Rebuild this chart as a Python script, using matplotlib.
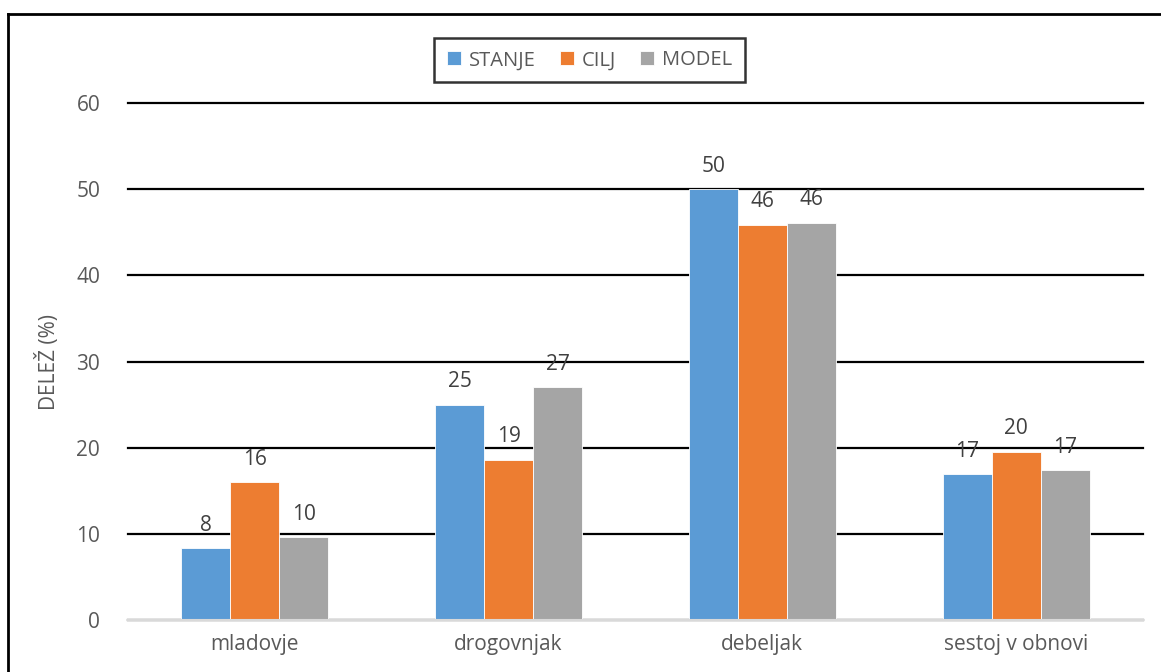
import matplotlib
matplotlib.use('Agg')
import matplotlib.pyplot as plt
import numpy as np
from matplotlib.lines import Line2D

plt.rcParams['font.family'] = ['Open Sans', 'DejaVu Sans']

kategorije = ['mladovje', 'drogovnjak', 'debeljak', 'sestoj v obnovi']
stanje = [8.3, 25.0, 50.0, 16.9]
cilj = [16.0, 18.6, 45.9, 19.5]
model = [9.6, 27.0, 46.1, 17.4]

serije = [('STANJE', stanje, '#5B9BD5'),
          ('CILJ', cilj, '#ED7D31'),
          ('MODEL', model, '#A5A5A5')]

siva = '#595959'
fs = 15

fig = plt.figure(figsize=(11.61, 6.72), dpi=100)
ax = fig.add_axes([0.1102, 0.0774, 0.8743, 0.7693])

x = np.arange(len(kategorije))
sirina = 0.193
for i, (ime, vrednosti, barva) in enumerate(serije):
    pos = x + (i - 1) * sirina
    stolpci = ax.bar(pos, vrednosti, sirina, color=barva, label=ime,
                     edgecolor='white', linewidth=0.6, zorder=3)
    for s, v in zip(stolpci, vrednosti):
        ax.annotate('%.0f' % v, (s.get_x() + s.get_width() / 2, v),
                    xytext=(0, 9), textcoords='offset points',
                    ha='center', va='bottom', fontsize=fs, color='#404040',
                    zorder=4)

ax.set_xlim(-0.5, len(kategorije) - 0.5)
ax.set_ylim(0, 60)
ax.set_yticks(range(0, 61, 10))
ax.set_xticks(x)
ax.set_xticklabels(kategorije)
ax.tick_params(axis='both', length=0, labelsize=fs, labelcolor=siva)
ax.tick_params(axis='y', pad=20)
ax.tick_params(axis='x', pad=10)

ax.grid(axis='y', color='black', linewidth=1.6, zorder=0)
for g in ax.get_ygridlines():
    g.set_clip_on(False)
for sp in ['top', 'right', 'left']:
    ax.spines[sp].set_visible(False)
ax.spines['bottom'].set_color('#D9D9D9')
ax.spines['bottom'].set_linewidth(1.5)
ax.spines['bottom'].set_zorder(5)

ax.set_ylabel('DELEŽ (%)', fontsize=fs, color=siva, labelpad=12)

leg = fig.legend(loc='upper center', bbox_to_anchor=(0.5078, 0.958), ncol=3,
                 frameon=True, fancybox=False, fontsize=14.5,
                 handlelength=0.7, handleheight=0.7, handletextpad=0.4,
                 columnspacing=1.2, borderpad=0.6)
leg.get_frame().set_edgecolor('black')
leg.get_frame().set_linewidth(1.8)
for t in leg.get_texts():
    t.set_color(siva)

# okvir okoli slike (levo in zgoraj)
fig.add_artist(Line2D([8 / 1161, 8 / 1161], [0, 1 - 14 / 672],
                      color='black', linewidth=2, transform=fig.transFigure))
fig.add_artist(Line2D([8 / 1161, 1], [1 - 14 / 672, 1 - 14 / 672],
                      color='black', linewidth=2, transform=fig.transFigure))

fig.savefig('out.png', dpi=100)
